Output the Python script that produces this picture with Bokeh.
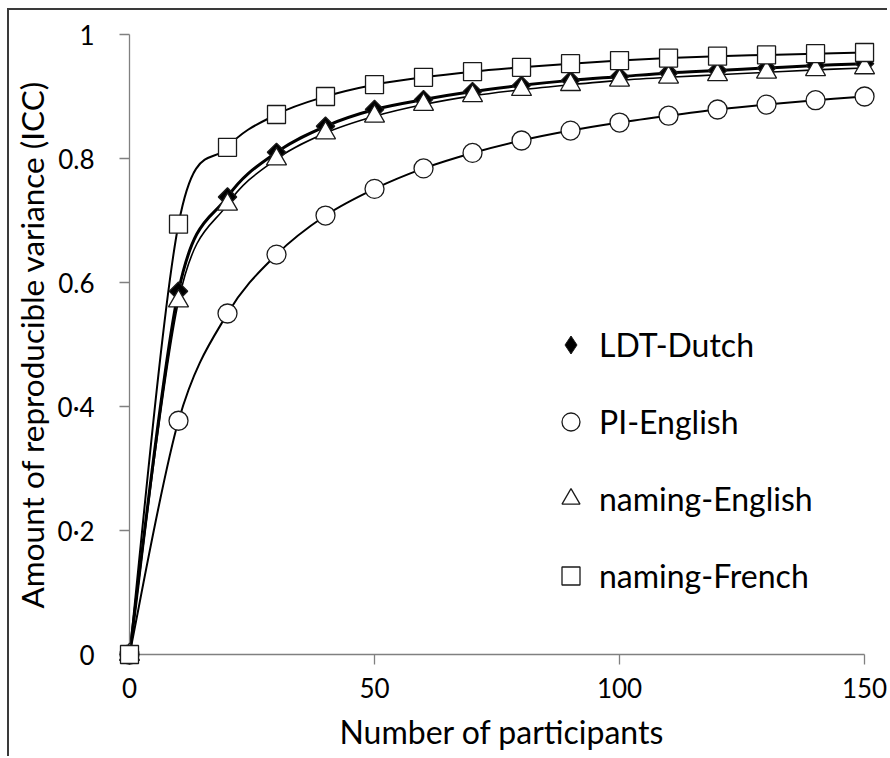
import numpy as np
from bokeh.plotting import figure
from bokeh.models import (ColumnDataSource, Range1d, LinearAxis, FixedTicker,
                          Legend, LegendItem, CDSView, IndexFilter)
from bokeh.embed import file_html
from bokeh.resources import INLINE

# ---------------- data ----------------
participants = [0, 10, 20, 30, 40, 50, 60, 70, 80, 90, 100, 110, 120, 130, 140, 150]
ldt_dutch = [0, 0.586, 0.738, 0.810, 0.852, 0.879, 0.895, 0.908, 0.918, 0.926,
             0.932, 0.938, 0.942, 0.946, 0.950, 0.953]
pi_english = [0, 0.377, 0.550, 0.645, 0.708, 0.751, 0.784, 0.809, 0.829, 0.845,
              0.858, 0.869, 0.879, 0.887, 0.894, 0.900]
naming_english = [0, 0.570, 0.726, 0.799, 0.841, 0.868, 0.887, 0.901, 0.911, 0.919,
                  0.926, 0.931, 0.935, 0.939, 0.943, 0.946]
naming_french = [0, 0.694, 0.818, 0.871, 0.900, 0.919, 0.931, 0.940, 0.947, 0.953,
                 0.958, 0.962, 0.965, 0.967, 0.969, 0.971]

series_names = ["LDT-Dutch", "PI-English", "naming-English", "naming-French"]
x_ticks = [0, 50, 100, 150]
y_ticks = [0, 0.2, 0.4, 0.6, 0.8, 1.0]
y_tick_labels = ["0", "0·2", "0·4", "0.6", "0.8", "1"]
x_title = "Number of participants"
y_title = "Amount of reproducible variance (ICC)"

FONT = "Lato"
AXIS_GRAY = "#808080"
INK = "#000000"


def bezier_source(xs, ys):
    """Smoothed (Catmull-Rom style) curve segments through the data points."""
    x = np.asarray(xs, dtype=float)
    y = np.asarray(ys, dtype=float)
    xm = np.r_[x[0], x[:-1]]
    ym = np.r_[y[0], y[:-1]]
    xp = np.r_[x[1:], x[-1]]
    yp = np.r_[y[1:], y[-1]]
    tx = (xp - xm) / 6.0
    ty = (yp - ym) / 6.0
    return ColumnDataSource(dict(
        x0=x[:-1], y0=y[:-1], x1=x[1:], y1=y[1:],
        cx0=x[:-1] + tx[:-1], cy0=y[:-1] + ty[:-1],
        cx1=x[1:] - tx[1:], cy1=y[1:] - ty[1:],
    ))


p = figure(width=880, height=748,
           x_range=Range1d(0, 152.03), y_range=Range1d(0, 1.0),
           output_backend="svg", toolbar_location=None,
           x_axis_location=None, y_axis_location=None,
           min_border_left=116, min_border_right=15,
           min_border_top=24, min_border_bottom=104)
p.outline_line_color = None
p.background_fill_color = "white"
p.border_fill_color = "white"
p.xgrid.visible = False
p.ygrid.visible = False
p.styles = {"margin-left": "7px", "margin-top": "8px",
            "border-top": "2px solid #3a3a3a", "border-left": "2px solid #3a3a3a"}

# ---------------- axes ----------------
xaxis = LinearAxis(ticker=FixedTicker(ticks=x_ticks), bounds=(0, 150),
                   axis_label=x_title)
yaxis = LinearAxis(ticker=FixedTicker(ticks=y_ticks), bounds=(0, 1),
                   axis_label=y_title)
yaxis.major_label_overrides = dict(zip(y_ticks, y_tick_labels))
for ax, standoff, title_standoff, title_size in ((xaxis, 13, 11, "32px"),
                                                 (yaxis, 25, 4, "31.5px")):
    ax.axis_line_color = AXIS_GRAY
    ax.axis_line_width = 1.3
    ax.major_tick_line_color = AXIS_GRAY
    ax.major_tick_line_width = 1.3
    ax.major_tick_out = 10
    ax.major_tick_in = 0
    ax.minor_tick_line_color = None
    ax.major_label_text_font = FONT
    ax.major_label_text_font_size = "26px"
    ax.major_label_text_color = INK
    ax.major_label_standoff = standoff
    ax.axis_label_standoff = title_standoff
    ax.axis_label_text_font = FONT
    ax.axis_label_text_font_size = title_size
    ax.axis_label_text_font_style = "normal"
    ax.axis_label_text_color = INK
p.add_layout(xaxis, "below")
p.add_layout(yaxis, "left")

# ---------------- series ----------------
series = [
    (ldt_dutch, dict(marker="square", angle=np.pi / 4, size=13, fill_color="black"), 3.0),
    (pi_english, dict(marker="circle", size=19, fill_color="white"), 2.0),
    (naming_english, dict(marker="triangle", size=20, fill_color="white"), 1.6),
    (naming_french, dict(marker="square", size=18, fill_color="white"), 2.0),
]

legend_renderers = []
for i, (name, (vals, mk, lw)) in enumerate(zip(series_names, series)):
    p.bezier(x0="x0", y0="y0", x1="x1", y1="y1", cx0="cx0", cy0="cy0",
             cx1="cx1", cy1="cy1", source=bezier_source(participants, vals),
             line_color="black", line_width=lw)
    r = p.scatter(participants, vals, line_color="#1a1a1a", line_width=1.3,
                  level="overlay", **mk)
    if i == 0:
        # diamond swatch for the legend (legend swatches ignore marker rotation);
        # only its first point is drawn, hidden beneath the origin markers
        src = ColumnDataSource(dict(x=participants, y=vals))
        r = p.scatter("x", "y", source=src, marker="diamond", size=13,
                      fill_color="black", line_color="#1a1a1a", line_width=1.0,
                      level="overlay", view=CDSView(filter=IndexFilter(indices=[0])))
    legend_renderers.append(r)

items = [LegendItem(label=n, renderers=[r]) for n, r in zip(series_names, legend_renderers)]

legend = Legend(items=items, location=(419, 56))
legend.border_line_color = None
legend.background_fill_alpha = 0
legend.padding = 0
legend.margin = 0
legend.glyph_width = 45
legend.glyph_height = 45
legend.spacing = 32
legend.label_standoff = 6
legend.label_text_font = FONT
legend.label_text_font_size = "32px"
legend.label_text_color = INK
p.add_layout(legend)

open("out.html", "w").write(file_html(p, INLINE))
